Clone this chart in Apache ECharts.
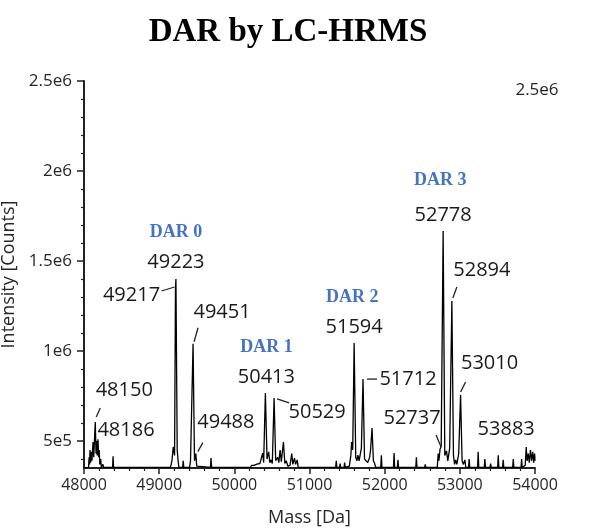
<!DOCTYPE html>
<html><head><meta charset="utf-8">
<script src="https://cdn.jsdelivr.net/npm/echarts@6/dist/echarts.min.js"></script>
<style>html,body{margin:0;padding:0;background:#fff}#c{width:609px;height:531px}</style>
</head><body><div id="c"></div>
<script>
// ---- Spectrum profile (mass in Da, intensity in counts) ----
const specMass = [
  48000,48060,48068,48074,48080,48088,48100,48106,48120,48130,48142,48150,48160,48168,48176,48186,48195,48203,48210,48222,48230,48252,48262,
  48380,48387,48394,
  49150,49170,49187,49205,49217,49223,49240,49252,49262,
  49312,49320,49328,49405,49417,49428,49451,49470,49488,49500,49508,
  49682,49690,49698,
  50215,50230,50245,50262,50280,50300,50320,50340,50355,50377,50390,50413,50435,50457,50472,50489,50505,50529,50550,50577,50592,50609,50625,50653,50672,50690,50712,50740,50764,50778,50800,50815,50836,50850,
  51104,51111,51118,51348,51356,51364,51400,51408,51416,51460,51467,51474,
  51530,51550,51560,51575,51594,51615,51630,51644,51660,51690,51712,51732,51756,51775,51800,51812,51832,51850,51867,51880,
  51948,51956,51964,52117,52125,52133,52169,52177,52185,52414,52422,52430,52532,52540,52548,
  52700,52712,52722,52737,52752,52778,52800,52823,52840,52865,52894,52915,52930,52945,52960,52985,53010,53030,53048,53067,53080,
  53116,53124,53132,53236,53244,53252,53325,53333,53341,53402,53410,53418,53503,53511,53519,53569,53577,53585,53703,53711,53719,53814,53822,53830,
  53870,53883,53895,53910,53924,53940,53955,53970,53983,53995,54000
];
const specIntensity = [
  3.52e5,3.53e5,4.1e5,3.7e5,4.5e5,3.8e5,4.4e5,3.9e5,4.94e5,4.1e5,5.3e5,6.06e5,4.3e5,5.0e5,4.2e5,5.1e5,4.1e5,4.5e5,3.7e5,4.0e5,3.55e5,3.7e5,3.53e5,
  3.53e5,4.15e5,3.53e5,
  3.53e5,3.9e5,4.67e5,4.2e5,1.35e6,1.40e6,4.5e5,3.9e5,3.53e5,
  3.53e5,3.9e5,3.53e5,3.53e5,3.9e5,3.8e5,1.04e6,3.9e5,4.3e5,3.6e5,3.53e5,
  3.53e5,4.05e5,3.53e5,
  3.53e5,3.65e5,3.58e5,3.65e5,3.6e5,3.72e5,3.62e5,3.75e5,3.65e5,4.33e5,3.8e5,7.67e5,4.0e5,4.4e5,3.8e5,3.95e5,3.75e5,7.39e5,3.9e5,4.1e5,3.8e5,4.5e5,3.85e5,4.94e5,3.75e5,3.9e5,3.6e5,3.65e5,4.3e5,3.7e5,4.05e5,3.7e5,3.95e5,3.53e5,
  3.53e5,3.62e5,3.53e5,3.53e5,3.9e5,3.53e5,3.53e5,3.75e5,3.53e5,3.53e5,3.8e5,3.53e5,
  3.6e5,4.2e5,4.94e5,4.5e5,1.044e6,4.1e5,3.9e5,4.22e5,3.9e5,4.6e5,8.44e5,4.0e5,4.1e5,3.8e5,4.1e5,4.5e5,5.72e5,3.9e5,3.75e5,3.53e5,
  3.53e5,4.2e5,3.53e5,3.53e5,4.33e5,3.53e5,3.53e5,3.95e5,3.53e5,3.53e5,4.1e5,3.53e5,3.53e5,3.7e5,3.53e5,
  3.55e5,4.3e5,3.9e5,4.56e5,4.7e5,1.667e6,4.2e5,4.45e5,3.9e5,4.6e5,1.278e6,4.2e5,3.7e5,3.95e5,3.7e5,4.3e5,7.56e5,3.9e5,3.7e5,3.95e5,3.53e5,
  3.53e5,4.0e5,3.53e5,3.53e5,4.4e5,3.53e5,3.53e5,4.0e5,3.53e5,3.53e5,3.75e5,3.53e5,3.53e5,4.2e5,3.53e5,3.53e5,3.95e5,3.53e5,3.53e5,4.0e5,3.53e5,3.53e5,4.0e5,3.53e5,
  3.65e5,4.67e5,3.9e5,4.3e5,3.8e5,4.5e5,3.9e5,4.4e5,3.8e5,4.3e5,3.9e5
];

// ---- Annotated peaks ----
const peakLabels = ['48150','48186','49217','49223','49451','49488','50413','50529','51594','51712','52737','52778','52894','53010','53883'];
const darLabels = ['DAR 0','DAR 1','DAR 2','DAR 3'];
const darPeaks = ['49223','50413','51594','52778'];

// ---- Axis ticks ----
const xMin = 48000, xMax = 54000, xStep = 1000;
const yMin = 3.5e5, yMax = 2.5e6;
const yTickValues = [5e5, 1e6, 1.5e6, 2e6, 2.5e6];
const yTickLabels = ['5e5', '1e6', '1.5e6', '2e6', '2.5e6'];
const yMinorTickValues = [4e5,6e5,7e5,8e5,9e5,1.1e6,1.2e6,1.3e6,1.4e6,1.6e6,1.7e6,1.8e6,1.9e6,2.1e6,2.2e6,2.3e6,2.4e6];
const cornerLabel = '2.5e6';

// ---- Label placement (pixel offsets from the peak apex; layout only) ----
const labelLayout = {
  '48150': {dx: 29, dy: -32, lead: [1, -5, 5, -14]},
  '48186': {dx: 28, dy: -9},
  '49217': {dx: -44, dy: 7, lead: [-14, 3, -1, -1]},
  '49223': {dx: 0, dy: -17},
  '49451': {dx: 29, dy: -32, lead: [1, -2, 5, -16]},
  '49488': {dx: 30, dy: -31, lead: [2, -2, 7, -11]},
  '50413': {dx: 1, dy: -16},
  '50529': {dx: 43, dy: 14, lead: [3, 1, 15, 5]},
  '51594': {dx: 0, dy: -16},
  '51712': {dx: 45, dy: 0, lead: [4, 0, 14, 0]},
  '52737': {dx: -28, dy: -31, lead: [-4, -14, 1, -2]},
  '52778': {dx: 0, dy: -16},
  '52894': {dx: 30, dy: -31, lead: [1, -3, 5, -14]},
  '53010': {dx: 29, dy: -32, lead: [0, -3, 5, -13]},
  '53883': {dx: -20, dy: -18}
};
const darLayout = {
  'DAR 0': {dx: 0, dy: -47},
  'DAR 1': {dx: 1, dy: -46},
  'DAR 2': {dx: -2, dy: -46},
  'DAR 3': {dx: -3, dy: -51}
};

const spectrum = specMass.map((m, i) => [m, specIntensity[i]]);
const peakData = peakLabels.map(t => {
  const m = Number(t);
  return [m, specIntensity[specMass.indexOf(m)]];
});

const chart = echarts.init(document.getElementById('c'), null, {renderer: 'canvas'});
const txt = '#262626';
chart.setOption({
  animation: false,
  backgroundColor: '#fff',
  grid: {left: 84, right: 74, top: 81, bottom: 63, containLabel: false, outerBoundsMode: 'none'},
  graphic: [
    {type: 'text', x: 288, y: 32, style: {text: 'DAR by LC-HRMS', font: 'bold 33px "Liberation Serif", "Times New Roman", serif', fill: '#000', align: 'center', verticalAlign: 'middle'}},
    {type: 'text', x: 537, y: 90, style: {text: cornerLabel, font: '17px "Open Sans", sans-serif', fill: txt, align: 'center', verticalAlign: 'middle'}}
  ],
  xAxis: {
    type: 'value', min: xMin, max: xMax, interval: xStep,
    name: 'Mass [Da]', nameLocation: 'middle', nameGap: 41,
    nameTextStyle: {fontSize: 18, fontFamily: 'Open Sans', color: txt},
    axisLine: {show: true, lineStyle: {color: '#222', width: 2}},
    axisTick: {show: true, length: 6, lineStyle: {color: '#222', width: 1.5}},
    minorTick: {show: true, splitNumber: 5, length: 3, lineStyle: {color: '#222', width: 1.2}},
    axisLabel: {fontSize: 16, fontFamily: 'Open Sans', color: txt, margin: 9, formatter: v => String(v)},
    splitLine: {show: false}
  },
  yAxis: [
    {
      type: 'value', min: yMin, max: yMax, position: 'left',
      name: 'Intensity [Counts]', nameLocation: 'middle', nameGap: 57,
      nameTextStyle: {fontSize: 18, fontFamily: 'Open Sans', color: txt},
      axisLine: {show: true, lineStyle: {color: '#222', width: 2}},
      axisTick: {show: true, length: 7, customValues: yTickValues, lineStyle: {color: '#222', width: 1.5}},
      axisLabel: {customValues: yTickValues, fontSize: 17, fontFamily: 'Open Sans', color: txt, margin: 12,
        formatter: v => yTickLabels[yTickValues.indexOf(v)]},
      splitLine: {show: false}
    },
    {
      type: 'value', min: yMin, max: yMax, position: 'left', offset: 0,
      axisLine: {show: false},
      axisTick: {show: true, length: 3, customValues: yMinorTickValues, lineStyle: {color: '#222', width: 1.2}},
      axisLabel: {show: false},
      splitLine: {show: false}
    }
  ],
  series: [
    {
      type: 'line', data: spectrum, yAxisIndex: 0, showSymbol: false, symbol: 'none',
      lineStyle: {color: '#000', width: 1.3}, clip: true, z: 2
    },
    {
      type: 'custom', data: peakData, yAxisIndex: 0, clip: false, z: 3,
      renderItem: function (params, api) {
        const i = params.dataIndex;
        const key = peakLabels[i];
        const p = api.coord([api.value(0), api.value(1)]);
        const lay = labelLayout[key];
        const children = [{
          type: 'text', x: p[0] + lay.dx, y: p[1] + lay.dy,
          style: {text: key, font: '20px "Open Sans", sans-serif', fill: '#1a1a1a', align: 'center', verticalAlign: 'middle'}
        }];
        if (lay.lead) {
          children.push({type: 'line', shape: {x1: p[0] + lay.lead[0], y1: p[1] + lay.lead[1], x2: p[0] + lay.lead[2], y2: p[1] + lay.lead[3]},
            style: {stroke: '#222', lineWidth: 1.3}});
        }
        const d = darPeaks.indexOf(key);
        if (d >= 0) {
          const dl = darLayout[darLabels[d]];
          children.push({type: 'text', x: p[0] + dl.dx, y: p[1] + dl.dy,
            style: {text: darLabels[d], font: 'bold 18px "Liberation Serif", "Times New Roman", serif', fill: '#4472C4', align: 'center', verticalAlign: 'middle'}});
        }
        return {type: 'group', children: children};
      }
    }
  ]
});
</script>
</body></html>
